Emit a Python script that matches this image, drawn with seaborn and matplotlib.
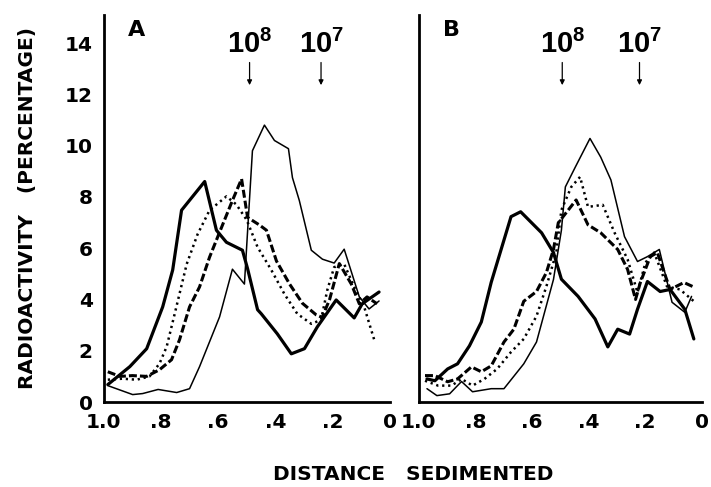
import matplotlib
matplotlib.use('Agg')
import seaborn as sns
from matplotlib import pyplot as plt
from matplotlib.ticker import FuncFormatter

# panel A
a_thick_x = [.986, .909, .850, .794, .759, .728, .647, .606, .571, .515, .497, .462, .449, .393, .344, .298, .253, .187, .124, .096, .037]
a_thick_y = [.68, 1.38, 2.08, 3.71, 5.15, 7.48, 8.60, 6.70, 6.23, 5.92, 5.2, 3.6, 3.44, 2.66, 1.88, 2.08, 2.93, 3.98, 3.28, 3.83, 4.29]
a_thin_x = [.986, .899, .864, .81, .745, .70, .665, .63, .595, .55, .508, .50, .48, .438, .403, .354, .34, .316, .274, .235, .194, .159, .106, .072, .037]
a_thin_y = [.64, .29, .33, .49, .37, .52, 1.38, 2.35, 3.32, 5.18, 4.6, 6.1, 9.8, 10.8, 10.2, 9.88, 8.75, 7.86, 5.92, 5.57, 5.42, 5.96, 4.1, 3.63, 3.94]
a_dash_x = [.986, .944, .9, .85, .805, .763, .735, .70, .665, .63, .595, .55, .518, .497, .455, .431, .396, .35, .305, .257, .236, .21, .176, .134, .106, .079, .044]
a_dash_y = [1.18, 1.0, 1.03, 1.0, 1.26, 1.65, 2.43, 3.71, 4.49, 5.65, 6.62, 7.86, 8.7, 7.2, 6.9, 6.7, 5.5, 4.6, 3.85, 3.4, 3.3, 4.0, 5.4, 4.6, 3.83, 4.1, 3.83]
a_dot_x = [.986, .934, .885, .84, .805, .78, .752, .71, .672, .63, .571, .536, .50, .462, .414, .368, .323, .274, .24, .218, .194, .159, .124, .089, .054]
a_dot_y = [.87, .91, .87, 1.0, 1.5, 2.16, 3.44, 5.38, 6.54, 7.48, 8.02, 7.7, 7.1, 6.04, 5.15, 4.21, 3.44, 3.05, 3.2, 4.37, 5.26, 5.38, 4.49, 3.71, 2.43]

# panel B
b_thick_x = [.971, .943, .898, .863, .821, .779, .744, .709, .674, .64, .566, .524, .496, .437, .377, .332, .297, .255, .227, .192, .147, .112, .06, .028]
b_thick_y = [.9, .83, 1.29, 1.49, 2.19, 3.12, 4.67, 5.95, 7.23, 7.42, 6.6, 5.83, 4.79, 4.12, 3.24, 2.15, 2.84, 2.65, 3.62, 4.7, 4.31, 4.39, 3.62, 2.46]
b_thin_x = [.971, .936, .891, .849, .81, .744, .699, .629, .584, .524, .496, .482, .447, .395, .357, .321, .273, .227, .192, .15, .105, .06, .036]
b_thin_y = [.52, .25, .32, .8, .4, .52, .52, 1.49, 2.34, 4.78, 6.7, 8.39, 9.16, 10.28, 9.55, 8.66, 6.45, 5.48, 5.67, 5.95, 3.89, 3.5, 4.12]
b_dash_x = [.978, .943, .898, .863, .814, .779, .744, .699, .664, .629, .584, .549, .524, .507, .444, .402, .357, .297, .262, .234, .217, .182, .157, .112, .063, .025]
b_dash_y = [1.03, 1.03, .79, .9, 1.37, 1.18, 1.41, 2.34, 2.84, 3.93, 4.31, 5.05, 5.95, 6.99, 7.88, 6.91, 6.6, 5.95, 5.17, 4.0, 4.66, 5.67, 5.83, 4.39, 4.66, 4.47]
b_dot_x = [.978, .932, .884, .849, .81, .768, .723, .674, .629, .584, .549, .514, .496, .461, .43, .402, .35, .308, .262, .227, .199, .168, .123, .077, .028]
b_dot_y = [.83, .64, .64, .9, .64, .9, 1.29, 1.95, 2.46, 3.35, 4.51, 5.83, 7.49, 8.39, 8.78, 7.61, 7.69, 6.6, 5.56, 4.27, 5.44, 5.83, 4.51, 4.39, 3.93]

x_ticks = [1.0, .8, .6, .4, .2, 0]
y_ticks = [0, 2, 4, 6, 8, 10, 12, 14]
markers_a = [(.49, '8'), (.24, '7')]
markers_b = [(.493, '8'), (.22, '7')]

STYLES = {
    'thick': dict(linewidth=2.3, linestyle='-'),
    'thin': dict(linewidth=1.1, linestyle='-'),
    'dash': dict(linewidth=2.2, linestyle=(0, (2.6, 1.0))),
    'dot': dict(linewidth=1.8, linestyle=(0, (0.9, 1.5))),
}

sns.set_style('white')
plt.rcParams['font.family'] = ['DejaVu Sans']
plt.rcParams['font.weight'] = 'bold'
plt.rcParams['text.color'] = 'black'
plt.rcParams['mathtext.fontset'] = 'custom'
plt.rcParams['mathtext.rm'] = 'Liberation Sans:bold'
plt.rcParams['mathtext.bf'] = 'Liberation Sans:bold'


def tick_fmt(v, pos):
    if abs(v - 1) < 1e-6:
        return '1.0'
    if abs(v) < 1e-6:
        return '0'
    return f'{v:.1f}'.lstrip('0')


fig = plt.figure(figsize=(7.11, 4.87), dpi=100)
ax_a = fig.add_axes([0.146, 0.1745, 0.402, 0.795])
ax_b = fig.add_axes([0.589, 0.1745, 0.398, 0.795])

panels = [
    (ax_a, 'A', markers_a, [(a_thick_x, a_thick_y, 'thick'), (a_thin_x, a_thin_y, 'thin'),
                            (a_dash_x, a_dash_y, 'dash'), (a_dot_x, a_dot_y, 'dot')]),
    (ax_b, 'B', markers_b, [(b_thick_x, b_thick_y, 'thick'), (b_thin_x, b_thin_y, 'thin'),
                            (b_dash_x, b_dash_y, 'dash'), (b_dot_x, b_dot_y, 'dot')]),
]

for ax, letter, markers, series in panels:
    for xs, ys, kind in series:
        sns.lineplot(x=xs, y=ys, ax=ax, sort=False, color='black', **STYLES[kind])

    ax.set_xlim(1.0, 0.0)
    ax.set_ylim(0, 15.1)
    ax.set_xticks(x_ticks)
    ax.set_yticks(y_ticks)
    ax.xaxis.set_major_formatter(FuncFormatter(tick_fmt))
    for side in ['top', 'right']:
        ax.spines[side].set_visible(False)
    for side in ['left', 'bottom']:
        ax.spines[side].set_linewidth(2.0)
        ax.spines[side].set_color('black')
    ax.tick_params(direction='in', length=4, width=1.2, colors='black',
                   labelsize=14.5, pad=8)
    for lab in ax.get_xticklabels() + ax.get_yticklabels():
        lab.set_fontweight('bold')

    ax.text(0.915, 14.5, letter, fontsize=16, fontweight='bold', ha='left', va='center')

    for xm, exp in markers:
        ax.annotate('', xy=(xm, 12.25), xytext=(xm, 13.35),
                    arrowprops=dict(arrowstyle='-|>', lw=0.9, color='black', mutation_scale=7))
        ax.text(xm, 13.6, rf'$\mathbf{{10^{exp}}}$', fontsize=21, ha='center', va='baseline')

ax_b.tick_params(labelleft=False)

fig.text(0.038, 0.573, 'RADIOACTIVITY   (PERCENTAGE)', rotation=90, ha='center', va='center',
         fontsize=14.5, fontweight='bold')
fig.text(0.581, 0.025, 'DISTANCE   SEDIMENTED', ha='center', va='center',
         fontsize=14.5, fontweight='bold')

fig.savefig('out.png', dpi=100)
plt.close(fig)
